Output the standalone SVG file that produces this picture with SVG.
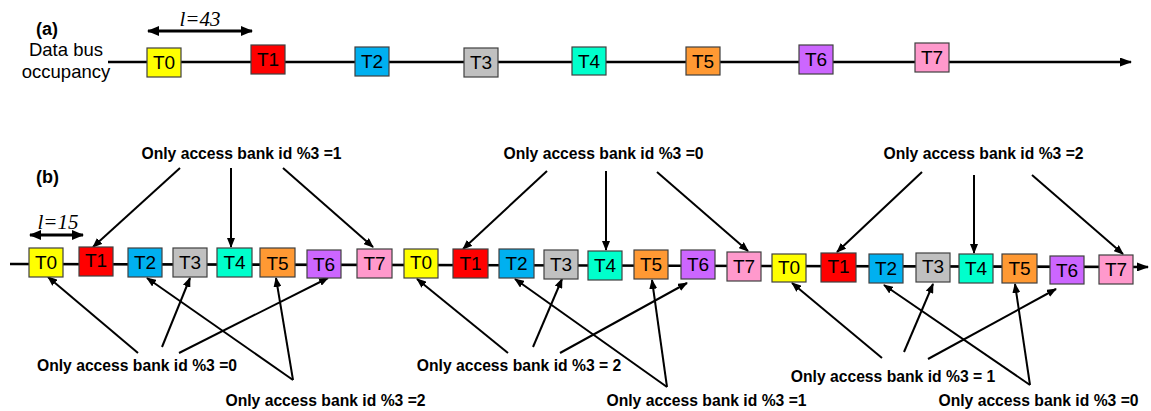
<svg xmlns="http://www.w3.org/2000/svg" width="1151" height="411" viewBox="0 0 1151 411">
  <style>
    .bg { fill: #ffffff; }
    .box { stroke: #404040; stroke-width: 1.2; }
    .tl { font-family: "Liberation Sans", Arial, sans-serif; font-size: 19px; fill: #000; text-anchor: middle; }
    .tlb { font-family: "Liberation Sans", Arial, sans-serif; font-size: 19px; fill: #000; text-anchor: middle; }
    .hdr { font-family: "Liberation Sans", Arial, sans-serif; font-size: 18px; font-weight: bold; fill: #000; }
    .cap { font-family: "Liberation Sans", Arial, sans-serif; font-size: 18.5px; fill: #000; text-anchor: middle; }
    .lbl { font-family: "Liberation Sans", Arial, sans-serif; font-size: 15.7px; font-weight: bold; fill: #000; text-anchor: middle; }
    .len { font-family: "Liberation Serif", "Times New Roman", serif; font-size: 21px; font-style: italic; fill: #000; text-anchor: middle; }
    .bus { stroke: #000; stroke-width: 2.6; fill: none; }
    .con { stroke: #000; stroke-width: 2; fill: none; }
    .span { stroke: #000; stroke-width: 2.8; fill: none; }
    .c0 { fill: #FFFF00; } .c1 { fill: #FF0000; } .c2 { fill: #00B0F0; } .c3 { fill: #C0C0C0; }
    .c4 { fill: #00FFCC; } .c5 { fill: #FF9933; } .c6 { fill: #CC66FF; } .c7 { fill: #FF99CC; }
  </style>
  <defs>
    <marker id="ah" markerUnits="userSpaceOnUse" markerWidth="10" markerHeight="8" refX="9" refY="4" orient="auto-start-reverse">
      <path d="M0,0 L10,4 L0,8 z" fill="#000"/>
    </marker>
    <marker id="ahSpan" markerUnits="userSpaceOnUse" markerWidth="12" markerHeight="10" refX="11" refY="5" orient="auto-start-reverse">
      <path d="M0,0 L12,5 L0,10 z" fill="#000"/>
    </marker>
    <marker id="ahBus" markerUnits="userSpaceOnUse" markerWidth="12" markerHeight="9" refX="11" refY="4.5" orient="auto">
      <path d="M0,0 L12,4.5 L0,9 z" fill="#000"/>
    </marker>
  </defs>
  <rect class="bg" x="0" y="0" width="1151" height="411"/>

  <!-- (a) data bus timeline -->
  <text class="hdr" x="36" y="35">(a)</text>
  <text class="cap" x="66" y="56">Data bus</text>
  <text class="cap" x="66" y="78">occupancy</text>
  <text class="len" x="200" y="26">l=43</text>

  <g id="connectors">
    <line class="bus" x1="108" y1="62" x2="1131" y2="62" marker-end="url(#ahBus)"/>
    <line class="span" x1="148" y1="31" x2="252" y2="31" marker-start="url(#ahSpan)" marker-end="url(#ahSpan)"/>

    <!-- (b) bus and spacing marker -->
    <line class="bus" x1="10" y1="264" x2="1148" y2="267" marker-end="url(#ahBus)"/>
    <line class="span" x1="30" y1="235" x2="83" y2="235" marker-start="url(#ahSpan)" marker-end="url(#ahSpan)"/>

    <!-- group 1 top -->
    <line class="con" x1="180" y1="168" x2="93" y2="247" marker-end="url(#ah)"/>
    <line class="con" x1="231" y1="168" x2="231" y2="247" marker-end="url(#ah)"/>
    <line class="con" x1="283" y1="168" x2="373" y2="247" marker-end="url(#ah)"/>
    <!-- group 2 top -->
    <line class="con" x1="547" y1="171" x2="463" y2="249" marker-end="url(#ah)"/>
    <line class="con" x1="606" y1="171" x2="606" y2="250" marker-end="url(#ah)"/>
    <line class="con" x1="657" y1="172" x2="748" y2="251" marker-end="url(#ah)"/>
    <!-- group 3 top -->
    <line class="con" x1="922" y1="172" x2="837" y2="252" marker-end="url(#ah)"/>
    <line class="con" x1="974" y1="175" x2="974" y2="253" marker-end="url(#ah)"/>
    <line class="con" x1="1032" y1="175" x2="1123" y2="254" marker-end="url(#ah)"/>

    <!-- group 1 bottom -->
    <line class="con" x1="138" y1="353" x2="48" y2="277" marker-end="url(#ah)"/>
    <line class="con" x1="162" y1="347" x2="190" y2="278" marker-end="url(#ah)"/>
    <line class="con" x1="179" y1="353" x2="328" y2="278" marker-end="url(#ah)"/>
    <line class="con" x1="293" y1="380" x2="147" y2="278" marker-end="url(#ah)"/>
    <line class="con" x1="293" y1="380" x2="276" y2="278" marker-end="url(#ah)"/>
    <!-- group 2 bottom -->
    <line class="con" x1="508" y1="353" x2="417" y2="279" marker-end="url(#ah)"/>
    <line class="con" x1="533" y1="347" x2="562" y2="279" marker-end="url(#ah)"/>
    <line class="con" x1="560" y1="353" x2="687" y2="283" marker-end="url(#ah)"/>
    <line class="con" x1="667" y1="387" x2="515" y2="279" marker-end="url(#ah)"/>
    <line class="con" x1="667" y1="387" x2="652" y2="280" marker-end="url(#ah)"/>
    <!-- group 3 bottom -->
    <line class="con" x1="882" y1="358" x2="792" y2="283" marker-end="url(#ah)"/>
    <line class="con" x1="904" y1="352" x2="933" y2="284" marker-end="url(#ah)"/>
    <line class="con" x1="928" y1="359" x2="1056" y2="289" marker-end="url(#ah)"/>
    <line class="con" x1="1030" y1="385" x2="884" y2="285" marker-end="url(#ah)"/>
    <line class="con" x1="1030" y1="385" x2="1015" y2="284" marker-end="url(#ah)"/>
  </g>

  <!-- (a) transfers -->
  <g id="a-T0"><rect class="box c0" x="147" y="48" width="34" height="29"/><text class="tl" x="164" y="69">T0</text></g>
  <g id="a-T1"><rect class="box c1" x="251" y="45" width="34" height="29"/><text class="tl" x="268" y="66">T1</text></g>
  <g id="a-T2"><rect class="box c2" x="355" y="47" width="34" height="29"/><text class="tl" x="372" y="68">T2</text></g>
  <g id="a-T3"><rect class="box c3" x="464" y="48" width="34" height="29"/><text class="tl" x="481" y="69">T3</text></g>
  <g id="a-T4"><rect class="box c4" x="572" y="47" width="34" height="28"/><text class="tl" x="589" y="68">T4</text></g>
  <g id="a-T5"><rect class="box c5" x="686" y="47" width="34" height="28"/><text class="tl" x="703" y="68">T5</text></g>
  <g id="a-T6"><rect class="box c6" x="799" y="45" width="34" height="29"/><text class="tl" x="816" y="66">T6</text></g>
  <g id="a-T7"><rect class="box c7" x="915" y="43" width="34" height="29"/><text class="tl" x="932" y="64">T7</text></g>

  <!-- (b) interleaved transfers -->
  <text class="hdr" x="36" y="183">(b)</text>
  <text class="len" x="58" y="229">l=15</text>

  <g id="b1-T0"><rect class="box c0" x="29" y="248" width="34" height="29"/><text class="tlb" x="46" y="269">T0</text></g>
  <g id="b1-T1"><rect class="box c1" x="79" y="247" width="34" height="29"/><text class="tlb" x="96" y="267">T1</text></g>
  <g id="b1-T2"><rect class="box c2" x="128" y="248" width="34" height="29"/><text class="tlb" x="145" y="269">T2</text></g>
  <g id="b1-T3"><rect class="box c3" x="173" y="248" width="34" height="29"/><text class="tlb" x="190" y="269">T3</text></g>
  <g id="b1-T4"><rect class="box c4" x="217" y="248" width="35" height="29"/><text class="tlb" x="234.5" y="269">T4</text></g>
  <g id="b1-T5"><rect class="box c5" x="260" y="248" width="35" height="29"/><text class="tlb" x="277.5" y="270">T5</text></g>
  <g id="b1-T6"><rect class="box c6" x="307" y="250" width="34" height="28"/><text class="tlb" x="324" y="271">T6</text></g>
  <g id="b1-T7"><rect class="box c7" x="357" y="249" width="35" height="29"/><text class="tlb" x="374.5" y="270">T7</text></g>

  <g id="b2-T0"><rect class="box c0" x="404" y="249" width="34" height="29"/><text class="tlb" x="421" y="269">T0</text></g>
  <g id="b2-T1"><rect class="box c1" x="453" y="249" width="35" height="29"/><text class="tlb" x="470.5" y="270">T1</text></g>
  <g id="b2-T2"><rect class="box c2" x="499" y="249" width="35" height="29"/><text class="tlb" x="516.5" y="270">T2</text></g>
  <g id="b2-T3"><rect class="box c3" x="544" y="250" width="34" height="29"/><text class="tlb" x="561" y="271">T3</text></g>
  <g id="b2-T4"><rect class="box c4" x="588" y="251" width="34" height="29"/><text class="tlb" x="605" y="272">T4</text></g>
  <g id="b2-T5"><rect class="box c5" x="634" y="250" width="34" height="29"/><text class="tlb" x="651" y="271">T5</text></g>
  <g id="b2-T6"><rect class="box c6" x="681" y="250" width="34" height="29"/><text class="tlb" x="698" y="271">T6</text></g>
  <g id="b2-T7"><rect class="box c7" x="727" y="252" width="34" height="29"/><text class="tlb" x="744" y="273">T7</text></g>

  <g id="b3-T0"><rect class="box c0" x="772" y="254" width="34" height="28"/><text class="tlb" x="789" y="274">T0</text></g>
  <g id="b3-T1"><rect class="box c1" x="821" y="253" width="35" height="29"/><text class="tlb" x="838.5" y="273">T1</text></g>
  <g id="b3-T2"><rect class="box c2" x="869" y="254" width="34" height="29"/><text class="tlb" x="886" y="275">T2</text></g>
  <g id="b3-T3"><rect class="box c3" x="916" y="253" width="34" height="29"/><text class="tlb" x="933" y="273">T3</text></g>
  <g id="b3-T4"><rect class="box c4" x="959" y="254" width="34" height="29"/><text class="tlb" x="976" y="275">T4</text></g>
  <g id="b3-T5"><rect class="box c5" x="1002" y="254" width="35" height="29"/><text class="tlb" x="1019.5" y="275">T5</text></g>
  <g id="b3-T6"><rect class="box c6" x="1050" y="256" width="34" height="28"/><text class="tlb" x="1067" y="277">T6</text></g>
  <g id="b3-T7"><rect class="box c7" x="1099" y="255" width="34" height="29"/><text class="tlb" x="1116" y="276">T7</text></g>

  <!-- bank-id annotations -->
  <g id="labels">
    <text class="lbl" x="241.5" y="159">Only access bank id %3 =1</text>
    <text class="lbl" x="603.5" y="159">Only access bank id %3 =0</text>
    <text class="lbl" x="983.5" y="159">Only access bank id %3 =2</text>
    <text class="lbl" x="137" y="371">Only access bank id %3 =0</text>
    <text class="lbl" x="325.5" y="406">Only access bank id %3 =2</text>
    <text class="lbl" x="519" y="371">Only access bank id %3 = 2</text>
    <text class="lbl" x="706.5" y="406">Only access bank id %3 =1</text>
    <text class="lbl" x="893" y="382">Only access bank id %3 = 1</text>
    <text class="lbl" x="1038.5" y="406">Only access bank id %3 =0</text>
  </g>
</svg>
